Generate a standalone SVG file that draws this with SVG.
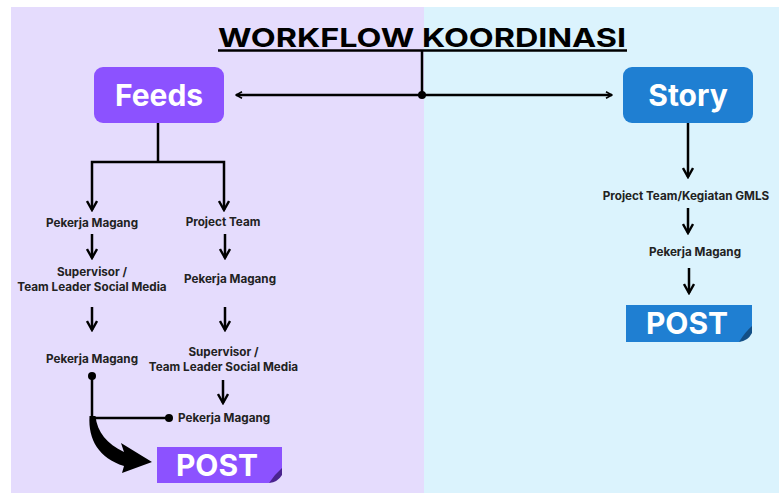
<svg xmlns="http://www.w3.org/2000/svg" width="779" height="496" viewBox="0 0 779 496">
<defs>
<style>
.lbl{font-family:Inter,"Open Sans","Liberation Sans",sans-serif;font-weight:700;font-size:11.7px;fill:#222;text-anchor:middle}
.box{font-family:Inter,"Open Sans","Liberation Sans",sans-serif;font-weight:700;fill:#fff;text-anchor:middle}
.ln{stroke:#000;stroke-width:2.5;fill:none}
</style>
<marker id="ah" viewBox="0 0 12 12" refX="10.5" refY="6" markerWidth="12" markerHeight="12" markerUnits="userSpaceOnUse" orient="auto-start-reverse">
<path d="M1.5,1 L10.5,6 L1.5,11" fill="none" stroke="#000" stroke-width="2.4" stroke-linejoin="miter"/>
</marker>
<marker id="ahs" viewBox="0 0 10 10" refX="9" refY="5" markerWidth="8" markerHeight="8" markerUnits="userSpaceOnUse" orient="auto-start-reverse">
<path d="M1.5,1 L9,5 L1.5,9" fill="none" stroke="#000" stroke-width="2"/>
</marker>
</defs>
<rect x="0" y="0" width="779" height="496" fill="#fff"/>
<rect x="11" y="7" width="413" height="486" fill="#e5dcfd"/>
<rect x="424" y="7" width="355" height="486" fill="#dbf3fd"/>

<g id="title">
<text x="422" y="47" font-family="Inter,'Open Sans','Liberation Sans',sans-serif" font-weight="700" font-size="26" text-anchor="middle" fill="#000" textLength="408" lengthAdjust="spacingAndGlyphs">WORKFLOW KOORDINASI</text>
<line x1="218" y1="50.5" x2="627" y2="50.5" stroke="#000" stroke-width="2.5"/>
</g>

<g id="feeds">
<rect x="94" y="67" width="130" height="56" rx="9" fill="#8c52ff"/>
<text class="box" x="159" y="106" font-size="30">Feeds</text>
</g>
<g id="story">
<rect x="623" y="67" width="130" height="56" rx="9" fill="#1f7fd2"/>
<text class="box" x="688" y="106" font-size="30">Story</text>
</g>

<g id="connectors">
<line class="ln" x1="422" y1="50" x2="422" y2="95"/>
<line class="ln" x1="236" y1="95" x2="612" y2="95" marker-start="url(#ahs)" marker-end="url(#ahs)"/>
<circle cx="422" cy="95" r="4" fill="#000"/>
<line class="ln" x1="158" y1="123" x2="158" y2="162"/>
<path class="ln" d="M92,210 V162 H224 V210" marker-start="url(#ah)" marker-end="url(#ah)"/>
<line class="ln" x1="92" y1="234" x2="92" y2="258" marker-end="url(#ah)"/>
<line class="ln" x1="225" y1="234" x2="225" y2="258" marker-end="url(#ah)"/>
<line class="ln" x1="92" y1="307" x2="92" y2="330" marker-end="url(#ah)"/>
<line class="ln" x1="225" y1="307" x2="225" y2="330" marker-end="url(#ah)"/>
<line class="ln" x1="223" y1="380" x2="223" y2="403" marker-end="url(#ah)"/>
<circle cx="92" cy="376" r="4" fill="#000"/>
<path class="ln" d="M92,376 V418 H169"/>
<circle cx="169" cy="418" r="4" fill="#000"/>
<path d="M89.5,416 C88,440 99,458 124,466 L122,473 L152,462 L121,443 L124,452 C107,444 97,432 95.5,416 Z" fill="#000"/>
<line class="ln" x1="688" y1="123" x2="688" y2="177" marker-end="url(#ah)"/>
<line class="ln" x1="688" y1="208" x2="688" y2="233" marker-end="url(#ah)"/>
<line class="ln" x1="689" y1="268" x2="689" y2="293" marker-end="url(#ah)"/>
</g>

<g id="l-pekerja1"><text class="lbl" x="92" y="226.5">Pekerja Magang</text></g>
<g id="l-project"><text class="lbl" x="223" y="226">Project Team</text></g>
<g id="l-super1"><text class="lbl" x="92" y="275.5">Supervisor /</text><text class="lbl" x="92" y="290.5">Team Leader Social Media</text></g>
<g id="l-pekerja2"><text class="lbl" x="230" y="283">Pekerja Magang</text></g>
<g id="l-pekerja3"><text class="lbl" x="92" y="363">Pekerja Magang</text></g>
<g id="l-super2"><text class="lbl" x="223.5" y="356">Supervisor /</text><text class="lbl" x="223.5" y="371">Team Leader Social Media</text></g>
<g id="l-pekerja4"><text class="lbl" x="178" y="422" style="text-anchor:start">Pekerja Magang</text></g>
<g id="r-project"><text class="lbl" x="686" y="200">Project Team/Kegiatan GMLS</text></g>
<g id="r-pekerja"><text class="lbl" x="695" y="256">Pekerja Magang</text></g>

<g id="post-feeds">
<path d="M157,447 H282 V469 Q279,479 269,483 H157 Z" fill="#8c52ff"/>
<path d="M282,468 Q275,474 269,483 Q278,482 282,475 Z" fill="#4a238f"/>
<text class="box" x="217" y="476" font-size="30">POST</text>
</g>
<g id="post-story">
<path d="M626,305 H752 V327 Q749,338 739,342 H626 Z" fill="#1f7fd2"/>
<path d="M752,326 Q745,332 739,342 Q748,341 752,333 Z" fill="#134f86"/>
<text class="box" x="687" y="334" font-size="30">POST</text>
</g>
</svg>
